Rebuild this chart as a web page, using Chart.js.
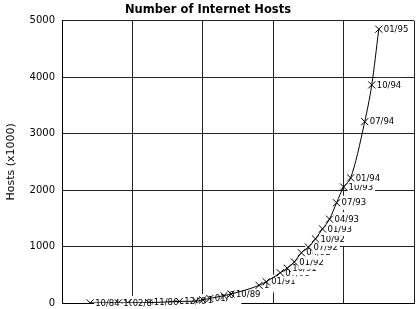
<!DOCTYPE html>
<html>
<head>
<meta charset="utf-8">
<script src="https://cdn.jsdelivr.net/npm/chart.js@4"></script>
<style>
  body { margin: 0; background: #fff; }
</style>
</head>
<body>
<canvas id="hostsChart" width="420" height="309"></canvas>
<script>
// survey dates (mm/yy) and host counts in thousands
var dates = ['10/84', '10/85', '02/86', '11/86', '12/87', '07/88', '10/88', '01/89', '07/89', '10/89',
             '10/90', '01/91', '07/91', '10/91', '01/92', '04/92', '07/92', '10/92', '01/93', '04/93',
             '07/93', '10/93', '01/94', '07/94', '10/94', '01/95'];
var hosts = [1.024, 1.961, 2.308, 5.089, 28.174, 33, 56, 80, 130, 159,
             313, 376, 535, 617, 727, 890, 992, 1136, 1313, 1486,
             1776, 2056, 2217, 3212, 3864, 4852];
var yTicks = [0, 1000, 2000, 3000, 4000, 5000];

// mm/yy -> decimal year (84.75 = Oct 1984)
function toYear(d) {
    var p = d.split('/');
    return parseInt(p[1], 10) + (parseInt(p[0], 10) - 1) / 12;
}
var points = dates.map(function (d, i) { return { x: toYear(d), y: hosts[i] }; });

// date labels next to each point, on white boxes
var pointLabels = {
    id: 'pointLabels',
    beforeDatasetsDraw: function (chart) {
        var ctx = chart.ctx;
        var meta = chart.getDatasetMeta(0);
        ctx.save();
        ctx.font = '8.5px "DejaVu Sans"';
        ctx.textBaseline = 'middle';
        meta.data.forEach(function (pt, i) {
            var txt = dates[i];
            var w = ctx.measureText(txt).width;
            var x = pt.x + 5, y = pt.y;
            ctx.fillStyle = '#fff';
            ctx.fillRect(x - 1, y - 7, w + 3, 14);
            ctx.fillStyle = '#000';
            ctx.fillText(txt, x, y + 0.5);
        });
        ctx.restore();
    }
};

var ctx = document.getElementById('hostsChart').getContext('2d');
var hostsChart = new Chart(ctx, {
    type: 'line',
    data: {
        datasets: [{
            data: points,
            borderColor: '#000',
            borderWidth: 1,
            pointStyle: 'crossRot',
            pointRadius: 5,
            pointBorderColor: '#000',
            pointBorderWidth: 1,
            cubicInterpolationMode: 'monotone',
            fill: false
        }]
    },
    options: {
        responsive: false,
        animation: false,
        layout: { padding: { left: 0, right: 4, top: 0, bottom: 6 } },
        plugins: {
            legend: { display: false },
            tooltip: { enabled: false },
            title: {
                display: true,
                text: 'Number of Internet Hosts',
                color: '#000',
                font: { family: 'DejaVu Sans', size: 11.5, weight: 'bold' },
                padding: { top: 3, bottom: 4 }
            }
        },
        scales: {
            x: {
                type: 'linear',
                min: 83.75,
                max: 96.25,
                afterFit: function (scale) {
                    scale.height = 0;
                    scale.paddingLeft = 0;
                    scale.paddingRight = 0;
                },
                ticks: { display: false, stepSize: 2.5 },
                grid: { color: '#222', drawTicks: false },
                border: { color: '#000' }
            },
            y: {
                min: 0,
                max: 5000,
                afterFit: function (scale) {
                    scale.width = 62;
                    scale.paddingTop = 0;
                    scale.paddingBottom = 0;
                },
                afterBuildTicks: function (scale) {
                    scale.ticks = yTicks.map(function (v) { return { value: v }; });
                },
                ticks: {
                    color: '#000',
                    padding: 7,
                    font: { family: 'DejaVu Sans', size: 10 },
                    callback: function (v) { return String(v); }
                },
                grid: { color: '#222', drawTicks: false },
                border: { color: '#000' },
                title: {
                    display: true,
                    text: 'Hosts (x1000)',
                    color: '#000',
                    font: { family: 'DejaVu Sans', size: 11 },
                    padding: { top: 5, bottom: 0 }
                }
            }
        }
    },
    plugins: [pointLabels]
});
</script>
</body>
</html>
